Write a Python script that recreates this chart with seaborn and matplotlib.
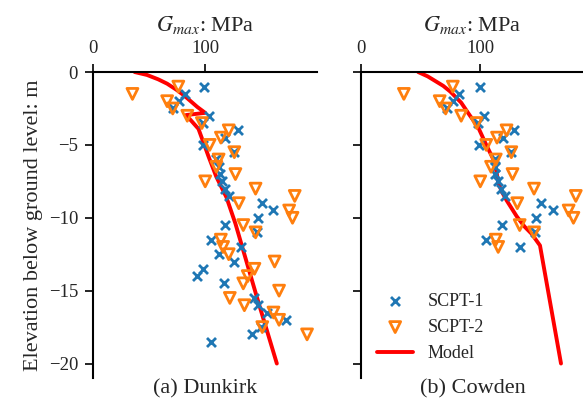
"""Shear modulus profiles at Dunkirk and Cowden: SCPT data vs model."""

import matplotlib
matplotlib.use('Agg')
import matplotlib.pyplot as plt
import pandas as pd
import seaborn as sns

# Dunkirk, SCPT-1
dk_scpt1_g = [99, 82, 77, 71, 103, 98, 129, 118, 98, 126, 110, 112, 113, 115,
              118, 121, 151, 161, 147, 118, 146, 105, 132, 112, 126, 98, 93,
              117, 144, 147, 155, 172, 150, 142, 105]
dk_scpt1_z = [-1.0, -1.5, -2.0, -2.5, -3.0, -3.5, -4.0, -4.5, -5.0, -5.5, -6.0,
              -6.5, -7.0, -7.5, -8.0, -8.5, -9.0, -9.5, -10.0, -10.5, -11.0,
              -11.5, -12.0, -12.5, -13.0, -13.5, -14.0, -14.5, -15.5, -16.0,
              -16.5, -17.0, -17.5, -18.0, -18.5]

# Dunkirk, SCPT-2
dk_scpt2_g = [76, 35, 66, 71, 84, 97, 121, 114, 104, 126, 112, 110, 127, 100,
              145, 180, 130, 175, 178, 134, 145, 114, 116, 121, 162, 144, 138,
              134, 166, 122, 135, 161, 166, 151, 191]
dk_scpt2_z = [-1.0, -1.5, -2.0, -2.5, -3.0, -3.5, -4.0, -4.5, -5.0, -5.5, -6.0,
              -6.5, -7.0, -7.5, -8.0, -8.5, -9.0, -9.5, -10.0, -10.5, -11.0,
              -11.5, -12.0, -12.5, -13.0, -13.5, -14.0, -14.5, -15.0, -15.5,
              -16.0, -16.5, -17.0, -17.5, -18.0]

# Dunkirk, model
dk_model_g = [37, 48, 58, 66, 74, 81, 87, 93, 100, 83, 94, 103, 110, 119, 127,
              146, 164]
dk_model_z = [0, -0.2, -0.5, -0.8, -1.2, -1.6, -2.0, -2.4, -2.8, -2.95, -3.9,
              -5.8, -7.2, -8.6, -10.4, -15.4, -20.0]

# Cowden, SCPT-1
cw_scpt1_g = [100, 82, 77, 72, 103, 98, 128, 119, 99, 126, 112, 112, 112, 115,
              117, 121, 151, 161, 147, 118, 146, 105, 133]
cw_scpt1_z = [-1.0, -1.5, -2.0, -2.5, -3.0, -3.5, -4.0, -4.5, -5.0, -5.5, -6.0,
              -6.5, -7.0, -7.5, -8.0, -8.5, -9.0, -9.5, -10.0, -10.5, -11.0,
              -11.5, -12.0]

# Cowden, SCPT-2
cw_scpt2_g = [77, 36, 66, 71, 84, 97, 122, 114, 105, 126, 113, 109, 127, 100,
              145, 180, 131, 174, 178, 133, 145, 113, 115]
cw_scpt2_z = [-1.0, -1.5, -2.0, -2.5, -3.0, -3.5, -4.0, -4.5, -5.0, -5.5, -6.0,
              -6.5, -7.0, -7.5, -8.0, -8.5, -9.0, -9.5, -10.0, -10.5, -11.0,
              -11.5, -12.0]

# Cowden, model
cw_model_g = [48, 56, 62, 69, 75, 84, 91, 98, 105, 111, 113.5, 115, 118, 122,
              130.5, 137, 143, 150, 167.6]
cw_model_z = [0, -0.3, -0.6, -0.95, -1.35, -2.1, -2.95, -3.75, -5.0, -6.0,
              -6.8, -7.6, -8.2, -8.8, -9.9, -10.6, -11.1, -11.9, -20.0]

site_titles = ['(a) Dunkirk', '(b) Cowden']
x_upper = [199.5, 187]

sns.set_style('ticks')
plt.rcParams['font.family'] = ['Liberation Serif', 'DejaVu Serif']
plt.rcParams['mathtext.fontset'] = 'stix'
plt.rcParams['font.size'] = 13

fig = plt.figure(figsize=(5.83, 3.98), dpi=100)
ax_dk = fig.add_axes([0.160, 0.050, 0.383, 0.769])
ax_cw = fig.add_axes([0.619, 0.050, 0.383, 0.769])

sites = [
    (ax_dk, dk_scpt1_g, dk_scpt1_z, dk_scpt2_g, dk_scpt2_z, dk_model_g, dk_model_z),
    (ax_cw, cw_scpt1_g, cw_scpt1_z, cw_scpt2_g, cw_scpt2_z, cw_model_g, cw_model_z),
]

for i, (ax, g1, z1, g2, z2, gm, zm) in enumerate(sites):
    sns.scatterplot(x=g1, y=z1, ax=ax, marker='x', color='#1f77b4', s=42,
                    linewidth=2, label='SCPT-1', zorder=3)
    sns.scatterplot(x=g2, y=z2, ax=ax, marker='v', s=62, facecolors='none',
                    edgecolor='#ff7f0e', linewidth=2, label='SCPT-2', zorder=3)
    model = pd.DataFrame({'g': gm, 'z': zm})
    sns.lineplot(data=model, x='g', y='z', ax=ax, sort=False, estimator=None,
                 color='red', linewidth=2.8, label='Model', zorder=2)

    ax.set_xlim(0, x_upper[i])
    ax.set_ylim(-21, 0)
    ax.set_xticks([0, 100])
    ax.set_yticks([0, -5, -10, -15, -20])
    ax.xaxis.tick_top()
    ax.xaxis.set_label_position('top')
    ax.set_xlabel('$G_{max}$: MPa', fontsize=16, labelpad=6)
    ax.tick_params(axis='both', direction='out', length=6, width=1.2,
                   labelsize=13.5, pad=5, color='black')
    for side in ['right', 'bottom']:
        ax.spines[side].set_visible(False)
    for side in ['left', 'top']:
        ax.spines[side].set_linewidth(1.5)
        ax.spines[side].set_color('black')
    ax.text(0.5, -0.005, site_titles[i], transform=ax.transAxes,
            ha='center', va='top', fontsize=16)
    ax.get_legend().remove()

ax_dk.set_ylabel('Elevation below ground level: m', fontsize=16, labelpad=4)
ax_cw.set_ylabel('')
ax_cw.tick_params(axis='y', labelleft=False)

handles, labels = ax_cw.get_legend_handles_labels()
ax_cw.legend(handles, labels, loc='lower left', frameon=False, fontsize=13)

fig.savefig('out.png', dpi=100)
